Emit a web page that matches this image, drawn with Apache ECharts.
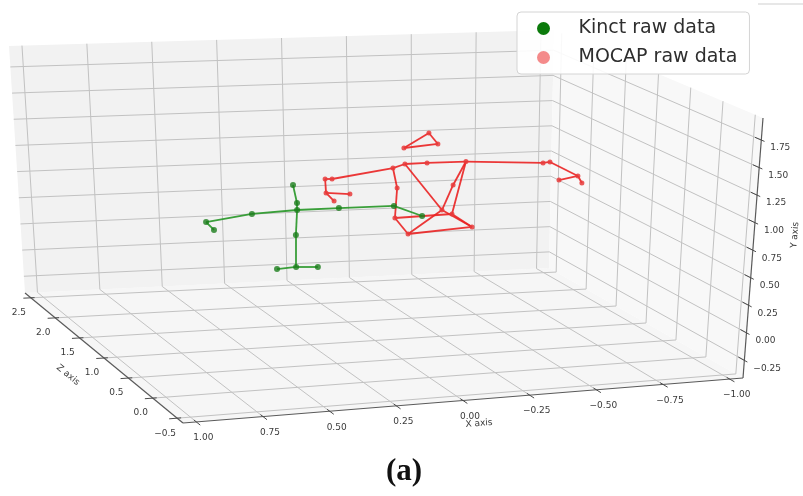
<!DOCTYPE html>
<html>
<head>
<meta charset="utf-8">
<script src="https://cdn.jsdelivr.net/npm/echarts@6/dist/echarts.min.js"></script>
<style>
  html, body { margin: 0; padding: 0; background: #fff; }
  #chart { width: 803px; height: 496px; }
</style>
</head>
<body>
<div id="chart"></div>
<script>
  // tick values of the three axes (Y is the vertical one, Z the depth)
  var xTicks = [1.0, 0.75, 0.5, 0.25, 0.0, -0.25, -0.5, -0.75, -1.0];
  var yTicks = [-0.25, 0.0, 0.25, 0.5, 0.75, 1.0, 1.25, 1.5, 1.75];
  var zTicks = [-0.5, 0.0, 0.5, 1.0, 1.5, 2.0, 2.5];
  var xTickLabels = ['1.00', '0.75', '0.50', '0.25', '0.00', '\u22120.25', '\u22120.50', '\u22120.75', '\u22121.00'];
  var yTickLabels = ['\u22120.25', '0.00', '0.25', '0.50', '0.75', '1.00', '1.25', '1.50', '1.75'];
  var zTickLabels = ['\u22120.5', '0.0', '0.5', '1.0', '1.5', '2.0', '2.5'];

  // axis limits (left->right, bottom->top, front->back)
  var xLim = [1.05, -1.05];
  var yLim = [-0.41, 1.95];
  var zLim = [-0.62, 2.62];

  // Kinect joints [x, y, z]
  var kinectJoints = [
    [0.308, 1.066, 1.0],   // head
    [0.294, 0.899, 1.0],   // neck
    [0.294, 0.835, 1.0],   // shoulder centre
    [0.300, 0.606, 1.0],   // spine
    [0.301, 0.312, 1.0],   // hip centre
    [0.374, 0.303, 1.0],   // hip left
    [0.218, 0.300, 1.0],   // hip right
    [0.465, 0.820, 1.0],   // elbow left
    [0.639, 0.768, 1.0],   // wrist left
    [0.610, 0.692, 1.0],   // hand left
    [0.136, 0.833, 1.0],   // elbow right
    [-0.072, 0.826, 1.0],  // wrist right
    [-0.179, 0.719, 1.0]   // hand right
  ];
  var kinectBones = [[0, 1], [1, 2], [2, 3], [3, 4], [4, 5], [4, 6], [2, 7], [7, 8], [8, 9], [2, 10], [10, 11], [11, 12]];

  // MOCAP joints [x, y, z]
  var mocapJoints = [
    [0.187, 1.107, 1.0],   // 0
    [-0.068, 1.178, 1.0],  // 1
    [-0.113, 1.210, 1.0],  // 2
    [-0.196, 1.210, 1.0],  // 3
    [-0.342, 1.206, 1.0],  // 4
    [-0.632, 1.158, 1.0],  // 5
    [-0.658, 1.164, 1.0],  // 6
    [-0.765, 1.019, 1.0],  // 7
    [-0.781, 0.951, 1.0],  // 8
    [-0.694, 0.990, 1.0],  // 9
    [0.184, 0.978, 1.0],   // 10
    [0.094, 0.957, 1.0],   // 11
    [0.154, 0.900, 1.0],   // 12
    [-0.084, 0.991, 1.0],  // 13
    [-0.076, 0.714, 1.0],  // 14
    [-0.126, 0.559, 1.0],  // 15
    [-0.254, 0.765, 1.0],  // 16
    [-0.295, 0.993, 1.0],  // 17
    [-0.292, 0.723, 1.0],  // 18
    [-0.369, 0.592, 1.0],  // 19
    [-0.202, 1.488, 1.0],  // 20
    [-0.236, 1.382, 1.0],  // 21
    [-0.109, 1.359, 1.0],  // 22
    [0.161, 1.104, 1.0]    // 23
  ];
  var mocapBones = [
    [0, 23], [23, 1], [1, 2], [2, 3], [3, 4], [4, 5], [5, 6], [6, 7], [7, 8], [7, 9],
    [0, 10], [10, 11], [10, 12],
    [1, 13], [13, 14], [14, 15],
    [2, 16], [4, 17], [17, 16], [4, 18],
    [16, 15], [16, 19], [14, 18], [15, 19], [18, 19],
    [20, 21], [21, 22], [22, 20]
  ];

  // camera: where the corners of the box land on the page
  var BOX = {
    lfb: [183, 423], rfb: [743, 378], lft: [173, 148], rft: [763, 118],
    lbb: [25, 293], rbb: [549, 268], lbt: [9, 46], rbt: [554, 30]
  };

  function lerp(a, b, t) {
    return [a[0] + (b[0] - a[0]) * t, a[1] + (b[1] - a[1]) * t];
  }
  function project(p) {
    var u = (xLim[0] - p[0]) / (xLim[0] - xLim[1]);
    var v = (p[1] - yLim[0]) / (yLim[1] - yLim[0]);
    var w = (p[2] - zLim[0]) / (zLim[1] - zLim[0]);
    var f = lerp(lerp(BOX.lfb, BOX.rfb, u), lerp(BOX.lft, BOX.rft, u), v);
    var b = lerp(lerp(BOX.lbb, BOX.rbb, u), lerp(BOX.lbt, BOX.rbt, u), v);
    return lerp(f, b, w);
  }

  var XL = xLim[0], XR = xLim[1], YB = yLim[0], YT = yLim[1], ZF = zLim[0], ZB = zLim[1];

  // panes
  var panes = [
    { pts: [[XL, YB, ZF], [XR, YB, ZF], [XR, YB, ZB], [XL, YB, ZB]], color: '#f6f6f6' },
    { pts: [[XL, YB, ZB], [XR, YB, ZB], [XR, YT, ZB], [XL, YT, ZB]], color: '#f2f2f2' },
    { pts: [[XR, YB, ZF], [XR, YB, ZB], [XR, YT, ZB], [XR, YT, ZF]], color: '#f8f8f8' }
  ];

  // grid lines, axis lines, tick marks
  var segs = [];
  xTicks.forEach(function (x) {
    segs.push({ a: [x, YB, ZF], b: [x, YB, ZB], k: 'grid' });
    segs.push({ a: [x, YB, ZB], b: [x, YT, ZB], k: 'grid' });
  });
  zTicks.forEach(function (z) {
    segs.push({ a: [XL, YB, z], b: [XR, YB, z], k: 'grid' });
    segs.push({ a: [XR, YB, z], b: [XR, YT, z], k: 'grid' });
  });
  yTicks.forEach(function (y) {
    segs.push({ a: [XL, y, ZB], b: [XR, y, ZB], k: 'grid' });
    segs.push({ a: [XR, y, ZB], b: [XR, y, ZF], k: 'grid' });
  });
  segs.push({ a: [XL, YB, ZF], b: [XR, YB, ZF], k: 'axis' });
  segs.push({ a: [XL, YB, ZF], b: [XL, YB, ZB], k: 'axis' });
  segs.push({ a: [XR, YB, ZF], b: [XR, YT, ZF], k: 'axis' });
  xTicks.forEach(function (x) {
    segs.push({ a: [x, YB, ZF - 0.08], b: [x, YB, ZF + 0.05], k: 'tick' });
  });
  zTicks.forEach(function (z) {
    segs.push({ a: [XL + 0.03, YB, z], b: [XL - 0.015, YB, z], k: 'tick' });
  });
  yTicks.forEach(function (y) {
    segs.push({ a: [XR, y, ZF - 0.05], b: [XR, y, ZF + 0.1], k: 'tick' });
  });

  // texts
  var texts = [];
  xTicks.forEach(function (x, i) {
    texts.push({ p: [x, YB, ZF], t: xTickLabels[i], dx: 7, dy: 16, align: 'center', size: 9, rot: 0 });
  });
  zTicks.forEach(function (z, i) {
    texts.push({ p: [XL, YB, z], t: zTickLabels[i], dx: -12, dy: 15, align: 'center', size: 9, rot: 0 });
  });
  yTicks.forEach(function (y, i) {
    texts.push({ p: [XR, y, ZF], t: yTickLabels[i], dx: 9, dy: 8, align: 'left', size: 9, rot: 0 });
  });
  texts.push({ p: [0, YB, ZF], t: 'X axis', dx: 16, dy: 23, align: 'center', size: 9, rot: 0.08 });
  texts.push({ p: [XL, YB, 1.0], t: 'Z axis', dx: -36, dy: 17, align: 'center', size: 9, rot: -0.69 });
  texts.push({ p: [XR, 0.77, ZF], t: 'Y axis', dx: 42, dy: -13, align: 'center', size: 9, rot: 1.49 });

  function boneData(joints, bones) {
    return bones.map(function (b) {
      return { coords: [project(joints[b[0]]), project(joints[b[1]])] };
    });
  }

  var myChart = echarts.init(document.getElementById('chart'), null, { renderer: 'canvas' });
  var option = {
    animation: false,
    backgroundColor: '#fff',
    grid: { left: 0, right: 0, top: 0, bottom: 0 },
    xAxis: { type: 'value', min: 0, max: 803, show: false },
    yAxis: { type: 'value', min: 0, max: 496, inverse: true, show: false },
    legend: {
      orient: 'vertical',
      left: 517,
      top: 12,
      padding: [7, 12, 7, 20],
      itemWidth: 16,
      itemHeight: 13,
      itemGap: 10,
      backgroundColor: 'rgba(255,255,255,0.9)',
      borderColor: '#d4d4d4',
      borderWidth: 1,
      borderRadius: 4,
      itemStyle: { borderWidth: 0 },
      textStyle: { fontSize: 19, color: '#2e2e2e', fontFamily: 'DejaVu Sans', padding: [0, 0, 0, 22] },
      data: [
        { name: 'Kinct raw data', icon: 'circle', itemStyle: { color: '#0b7a0b', borderWidth: 0 } },
        { name: 'MOCAP raw data', icon: 'circle', itemStyle: { color: '#f48a8a', borderWidth: 0 } }
      ]
    },
    graphic: [
      { type: 'text', x: 404, y: 472, style: { text: '(a)', fill: '#111', font: 'bold 31px "Liberation Serif"', align: 'center', verticalAlign: 'middle' } },
      { type: 'line', shape: { x1: 758, y1: 4, x2: 803, y2: 4 }, style: { stroke: '#cfcfcf', lineWidth: 1 } }
    ],
    series: [
      {
        type: 'custom',
        silent: true,
        z: 1,
        data: panes.map(function (p, i) { return [i]; }),
        renderItem: function (params, api) {
          var pane = panes[params.dataIndex];
          return {
            type: 'polygon',
            shape: { points: pane.pts.map(function (q) { return api.coord(project(q)); }) },
            style: { fill: pane.color, stroke: null }
          };
        }
      },
      {
        type: 'custom',
        silent: true,
        z: 2,
        data: segs.map(function (s, i) { return [i]; }),
        renderItem: function (params, api) {
          var s = segs[params.dataIndex];
          var a = api.coord(project(s.a)), b = api.coord(project(s.b));
          var st = s.k === 'grid' ? { stroke: '#c2c2c2', lineWidth: 1 }
                 : s.k === 'axis' ? { stroke: '#5a5a5a', lineWidth: 1.2 }
                 : { stroke: '#4a4a4a', lineWidth: 1 };
          return { type: 'line', shape: { x1: a[0], y1: a[1], x2: b[0], y2: b[1] }, style: st };
        }
      },
      {
        type: 'custom',
        silent: true,
        z: 3,
        data: texts.map(function (s, i) { return [i]; }),
        renderItem: function (params, api) {
          var s = texts[params.dataIndex];
          var c = api.coord(project(s.p));
          return {
            type: 'text',
            x: c[0] + s.dx,
            y: c[1] + s.dy,
            rotation: s.rot,
            style: {
              text: s.t, fill: '#3a3a3a',
              font: s.size + 'px "DejaVu Sans"',
              align: s.align, verticalAlign: 'middle'
            }
          };
        }
      },
      {
        name: 'MOCAP raw data',
        type: 'lines',
        coordinateSystem: 'cartesian2d',
        z: 4,
        silent: true,
        lineStyle: { color: '#ea2222', width: 1.8, opacity: 0.9 },
        data: boneData(mocapJoints, mocapBones)
      },
      {
        name: 'MOCAP raw data',
        type: 'scatter',
        z: 5,
        symbol: 'circle',
        symbolSize: 5,
        itemStyle: { color: '#e83c3c', opacity: 0.85 },
        data: mocapJoints.map(project)
      },
      {
        name: 'Kinct raw data',
        type: 'lines',
        coordinateSystem: 'cartesian2d',
        z: 6,
        silent: true,
        lineStyle: { color: '#2f9a2f', width: 1.8, opacity: 0.95 },
        data: boneData(kinectJoints, kinectBones)
      },
      {
        name: 'Kinct raw data',
        type: 'scatter',
        z: 7,
        symbol: 'circle',
        symbolSize: 6,
        itemStyle: { color: '#1c7d1c' },
        data: kinectJoints.map(project)
      }
    ]
  };
  myChart.setOption(option);
</script>
</body>
</html>
